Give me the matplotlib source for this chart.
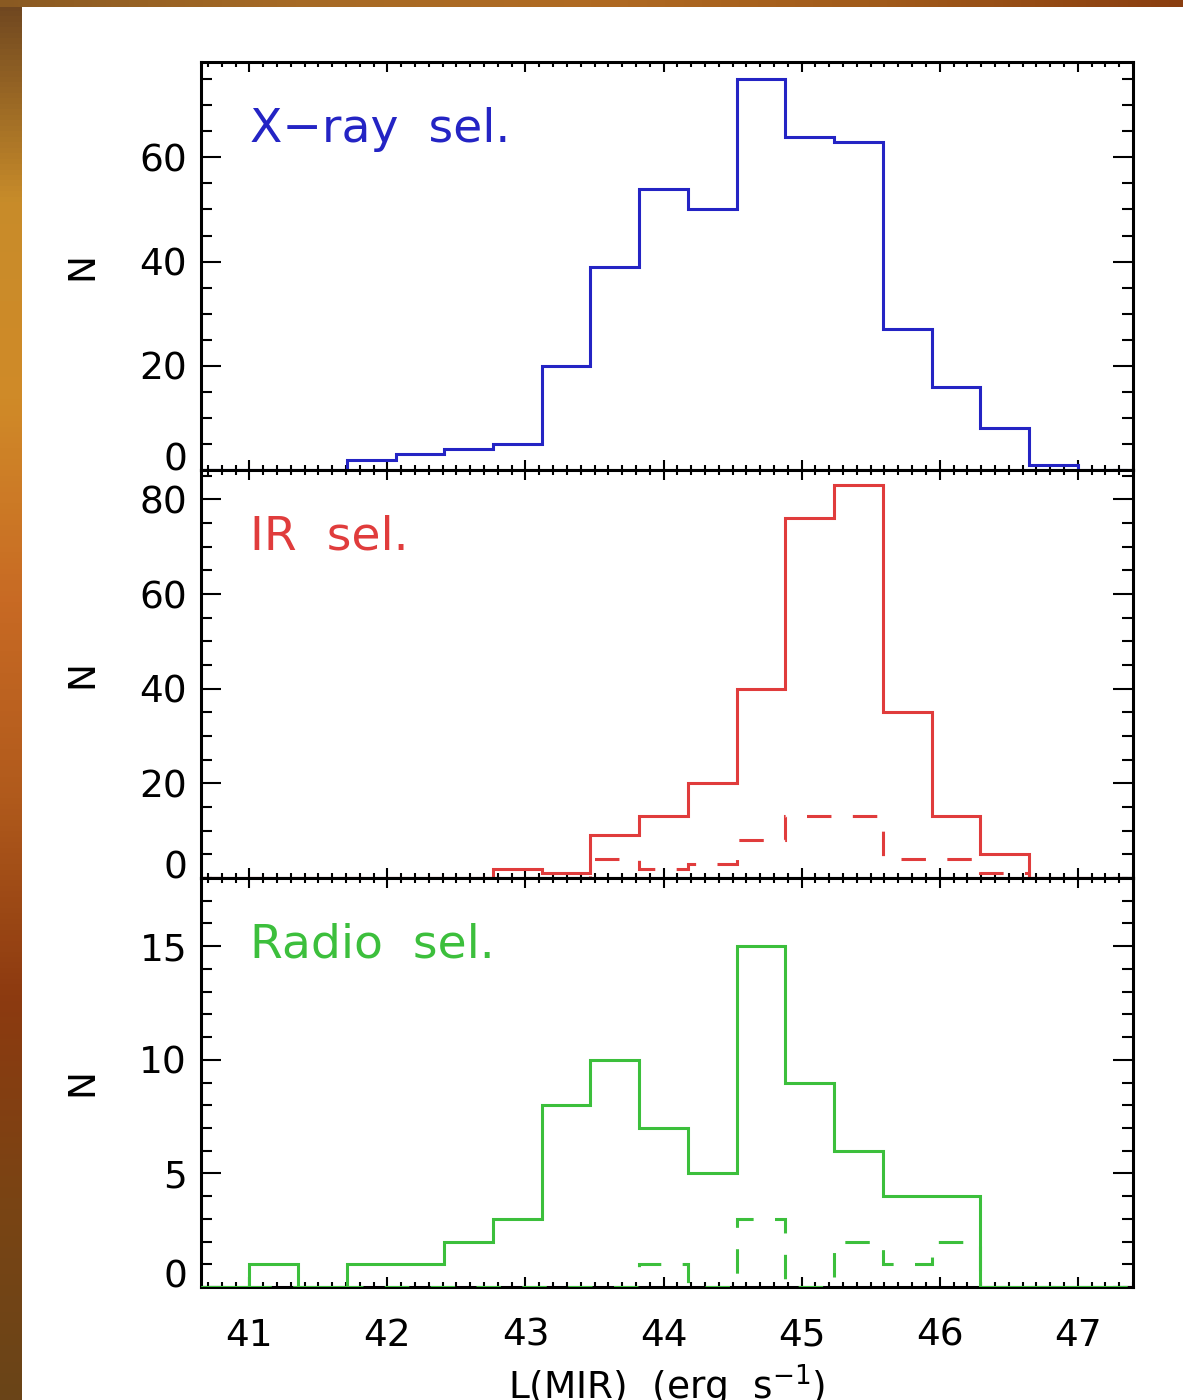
"""3パネルのL(MIR)ヒストグラム (X-ray / IR / Radio 選択)。"""

import matplotlib
matplotlib.use("Agg")
import matplotlib.pyplot as plt
import numpy as np
from matplotlib.colors import LinearSegmentedColormap
from matplotlib.ticker import FixedLocator, FuncFormatter, MultipleLocator

# 17 bins between log L = 41 and 47
bin_lo, bin_hi, n_bins = 41.0, 47.0, 17

xray_counts = [0, 0, 2, 3, 4, 5, 20, 39, 54, 50, 75, 64, 63, 27, 16, 8, 1]
ir_counts = [0, 0, 0, 0, 0, 2, 1, 9, 13, 20, 40, 76, 83, 35, 13, 5, 0]
ir_sub_counts = [0, 0, 0, 0, 0, 0, 0, 4, 2, 3, 8, 13, 13, 4, 4, 1, 0]
radio_counts = [1, 0, 1, 1, 2, 3, 8, 10, 7, 5, 15, 9, 6, 4, 4, 0, 0]
radio_sub_counts = [0, 0, 0, 0, 0, 0, 0, 0, 1, 0, 3, 0, 2, 1, 2, 0, 0]

panel_names = ["X\u2212ray  sel.", "IR  sel.", "Radio  sel."]
panel_colors = ["#2424c4", "#e03c3c", "#3cbf3c"]
panel_ymax = [78.3, 86.2, 18.0]
panel_yticks = [[0, 20, 40, 60], [0, 20, 40, 60, 80], [0, 5, 10, 15]]
panel_minor = [5, 5, 1]
x_ticks = [41, 42, 43, 44, 45, 46, 47]

W, H = 1183, 1400
plt.rcParams["font.family"] = ["DejaVu Sans"]

fig = plt.figure(figsize=(W / 100, H / 100), dpi=100)

# 背景の帯 (スクリーンショットの縁)
left_cmap = LinearSegmentedColormap.from_list(
    "left", ["#6e4620", "#c88c2a", "#d08a28", "#c86a24", "#b05a1c",
             "#8c3a10", "#7a4414", "#6a4418"])
top_cmap = LinearSegmentedColormap.from_list(
    "top", ["#8a5a22", "#a66a26", "#b06a22", "#a05a1a", "#8a3e10"])
grad = np.linspace(0, 1, 256)
bax = fig.add_axes([0, 0, 22 / W, 1])
bax.imshow(grad.reshape(-1, 1), cmap=left_cmap, aspect="auto")
bax.axis("off")
tax = fig.add_axes([0, 1 - 7 / H, 1, 7 / H])
tax.imshow(grad.reshape(1, -1), cmap=top_cmap, aspect="auto")
tax.axis("off")

edges = np.linspace(bin_lo, bin_hi, n_bins + 1)
width = edges[1] - edges[0]
edges_pad = np.concatenate([[bin_lo - width], edges, [bin_hi + width]])


def pad(vals):
    return np.concatenate([[0], vals, [0]])


left_px, right_px = 201, 1133
tops = [62, 470, 878]
bottoms = [470, 878, 1287]
series = [(xray_counts, None), (ir_counts, ir_sub_counts),
          (radio_counts, radio_sub_counts)]

for i in range(3):
    ax = fig.add_axes([left_px / W, 1 - bottoms[i] / H,
                       (right_px - left_px) / W, (bottoms[i] - tops[i]) / H])
    full, sub = series[i]
    color = panel_colors[i]
    ax.stairs(pad(full), edges_pad, color=color, lw=2.2, zorder=3)
    if sub is not None:
        ax.stairs(pad(sub), edges_pad, color=color, lw=2.2, zorder=3,
                  linestyle=(0, (8, 7)))

    ax.set_xlim(40.65, 47.4)
    ax.set_ylim(0, panel_ymax[i])
    ax.set_xticks(x_ticks)
    ax.xaxis.set_minor_locator(MultipleLocator(0.1))
    ax.yaxis.set_major_locator(FixedLocator(panel_yticks[i]))
    ax.yaxis.set_minor_locator(MultipleLocator(panel_minor[i]))
    # 0 のラベルは別に描いて軸の上に載せる
    ax.yaxis.set_major_formatter(
        FuncFormatter(lambda v, p: "" if v == 0 else f"{v:g}"))
    ax.tick_params(axis="both", which="both", direction="in",
                   top=True, right=True, width=1.5, color="black")
    ax.tick_params(axis="x", which="major", length=7)
    ax.tick_params(axis="x", which="minor", length=3.5)
    ax.tick_params(axis="y", which="major", length=14.5, labelsize=27, pad=10)
    ax.tick_params(axis="y", which="minor", length=8)
    ax.tick_params(axis="x", labelsize=27, pad=22, labelbottom=(i == 2))
    for sp in ax.spines.values():
        sp.set_linewidth(2.2)

    ax.annotate("0", xy=(0, 0), xycoords=("axes fraction", "data"),
                xytext=(-10, -6), textcoords="offset points",
                ha="right", va="bottom", fontsize=27)

    ax.set_ylabel("N", fontsize=27)
    ax.yaxis.set_label_coords(-0.108, 0.5)

    ax.text(0.053, 0.835, panel_names[i], transform=ax.transAxes,
            color=color, fontsize=34, va="center", ha="left")

    if i == 2:
        ax.set_xlabel("L(MIR)  (erg  s$^{-1}$)", fontsize=27, labelpad=6)

fig.savefig("out.png", dpi=100)
